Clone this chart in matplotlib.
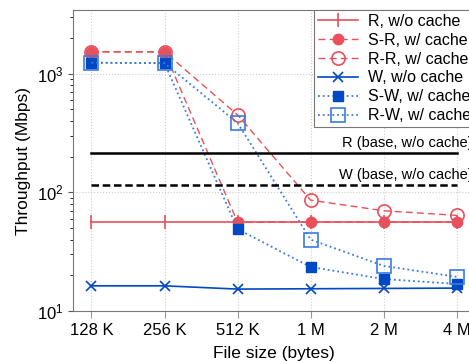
import numpy as np
import matplotlib
matplotlib.use("Agg")
from matplotlib import pyplot as plt

plt.rcParams['font.family'] = ['Liberation Sans', 'DejaVu Sans']

sizes = ['128 K', '256 K', '512 K', '1 M', '2 M', '4 M']
r_nocache = [56, 56, 56, 56, 56, 56]
sr_cache = [1535, 1530, 56, 56, 56, 56]
rr_cache = [1530, 1530, 450, 86, 70, 64]
w_nocache = [16.3, 16.3, 15.3, 15.4, 15.5, 15.6]
sw_cache = [1240, 1230, 49, 23.5, 18.6, 16.9]
rw_cache = [1240, 1230, 385, 40, 24, 19.4]
r_base = 215
w_base = 116

red = '#e8505b'
blue = '#0048c4'
lblue = '#3a7be0'

fig = plt.figure(figsize=(4.69, 3.61), dpi=100)
ax = fig.add_axes([0.156, 0.1385, 0.857, 0.8338])
x = np.arange(len(sizes))

ax.plot(x, r_nocache, '-', color=red, lw=1.2, marker='|', ms=10, mew=1.2,
        label='R, w/o cache')
ax.plot(x, sr_cache, '--', color=red, lw=1.0, marker='o', ms=7.5,
        label='S-R, w/ cache', dashes=(5, 3))
ax.plot(x, rr_cache, '--', color=red, lw=1.0, marker='o', ms=9.5, mfc='none', mew=1.2,
        label='R-R, w/ cache', dashes=(5, 3))
ax.plot(x, w_nocache, '-', color=blue, lw=1.2, marker='x', ms=7.5, mew=1.2,
        label='W, w/o cache')
ax.plot(x, sw_cache, ':', color=lblue, lw=1.3, marker='s', ms=7.5, mfc=blue, mec=blue,
        label='S-W, w/ cache')
ax.plot(x, rw_cache, ':', color=lblue, lw=1.3, marker='s', ms=9.5, mfc='none', mew=1.2,
        label='R-W, w/ cache')

ax.plot([x[0], x[-1]], [r_base, r_base], '-', color='black', lw=1.8)
ax.plot([x[0], x[-1]], [w_base, w_base], '--', color='black', lw=1.8, dashes=(3, 1.5))
ax.text(5.21, r_base * 1.06, 'R (base, w/o cache)', ha='right', va='bottom', fontsize=10.5)
ax.text(5.21, w_base * 1.06, 'W (base, w/o cache)', ha='right', va='bottom', fontsize=10.5)

ax.set_yscale('log')
ax.set_ylim(10, 3450)
ax.set_xlim(-0.25, 5.25)
ax.set_xticks(x)
ax.set_xticklabels(sizes, fontsize=12)
ax.tick_params(axis='y', labelsize=12, colors='#555555', labelcolor='black')
ax.tick_params(axis='x', colors='#999999', labelcolor='black', length=5)
ax.grid(True, which='major', ls=':', color='#cccccc', lw=0.8)
for s in ax.spines.values():
    s.set_color('#777777')

ax.set_xlabel('File size (bytes)', fontsize=12.5, labelpad=6)
ax.set_ylabel('Throughput (Mbps)', fontsize=12.5)

leg = ax.legend(loc='upper right', fontsize=11.5, fancybox=False, edgecolor='#777777',
                handlelength=2.5, borderpad=0.25, labelspacing=0.24, handletextpad=0.6,
                borderaxespad=0.0, framealpha=1)
leg.get_frame().set_linewidth(0.8)

fig.savefig('out.png', dpi=100)
